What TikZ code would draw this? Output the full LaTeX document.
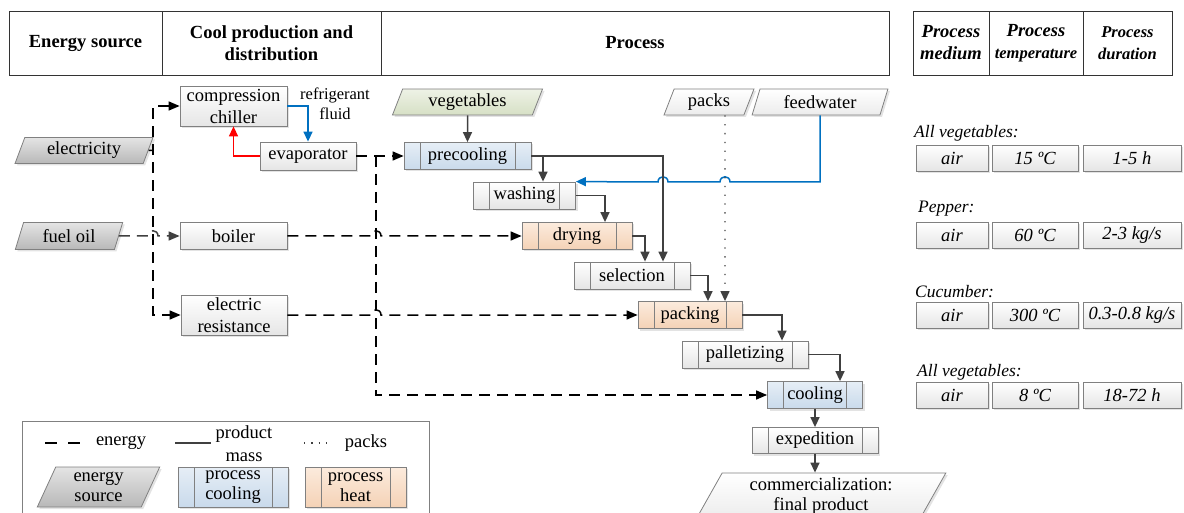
\documentclass[tikz,border=0pt]{standalone}
\usepackage{fontspec}
\setmainfont{Liberation Serif}
\usetikzlibrary{shapes.geometric,arrows.meta,shadows,calc}
\definecolor{boxline}{HTML}{808080}
\definecolor{prodc}{HTML}{404040}
\definecolor{bluel}{HTML}{0070C0}
\definecolor{coolA}{HTML}{E6EEF6}
\definecolor{coolB}{HTML}{C9DAEB}
\definecolor{heatA}{HTML}{FCEBDD}
\definecolor{heatB}{HTML}{F4D2B6}
\definecolor{vegA}{HTML}{EEF2E6}
\definecolor{vegB}{HTML}{D6E0C5}
\definecolor{enA}{HTML}{E4E4E4}
\definecolor{enB}{HTML}{B8B8B8}
\newcommand\myfs[2]{\fontsize{#1}{#2}\selectfont}
\begin{document}
\begin{tikzpicture}[x=1pt,y=-1pt,font=\myfs{18.5}{22},
  boxS/.style={rectangle,draw=boxline,line width=0.8pt,top color=white,bottom color=gray!20,
    inner sep=0pt,align=center,drop shadow={opacity=0.22,shadow xshift=2pt,shadow yshift=-2pt}},
  procS/.style={boxS,minimum height=27pt,path picture={
    \draw[boxline,line width=0.8pt]
      ([xshift=16pt]path picture bounding box.north west) -- ([xshift=16pt]path picture bounding box.south west)
      ([xshift=-16pt]path picture bounding box.north east) -- ([xshift=-16pt]path picture bounding box.south east);}},
  paraS/.style={trapezium,trapezium left angle=70,trapezium right angle=110,trapezium stretches=true,
    draw=boxline,line width=0.8pt,top color=white,bottom color=gray!15,inner sep=0pt,align=center,
    drop shadow={opacity=0.22,shadow xshift=2pt,shadow yshift=-2pt}},
  coolF/.style={top color=coolA,bottom color=coolB},
  heatF/.style={top color=heatA,bottom color=heatB},
  vegF/.style={top color=vegA,bottom color=vegB},
  enF/.style={top color=enA,bottom color=enB},
  hdrS/.style={rectangle,draw=black!80,line width=0.9pt,inner sep=0pt,align=center,minimum height=64pt},
  cellS/.style={boxS,minimum height=26pt,font=\myfs{18.5}{22}\itshape},
  labS/.style={anchor=west,inner sep=0pt,font=\myfs{17.5}{21}\itshape},
  energyL/.style={draw=black,line width=1.5pt,dash pattern=on 11pt off 7pt,-{Triangle[length=11pt,width=9pt]}},
  prodL/.style={draw=prodc,line width=1.5pt,-{Triangle[length=10pt,width=9pt]}},
  refrL/.style={draw=bluel,line width=1.5pt,-{Triangle[length=10pt,width=9pt]}},
  redL/.style={draw=red,line width=1.5pt,-{Triangle[length=10pt,width=9pt]}},
  packsL/.style={draw=prodc,line width=1.3pt,dash pattern=on 1.3pt off 7.5pt,-{Triangle[length=10pt,width=9pt]}}
]
\useasboundingbox (0,0) rectangle (1184,513);
\clip (0,0) rectangle (1184,513);

% header
\node[hdrS,minimum width=153pt] (hE) at (85.5,43) {\bfseries Energy source};
\node[hdrS,minimum width=219pt] (hC) at (271.5,43) {\bfseries Cool production and\\\bfseries distribution};
\node[hdrS,minimum width=508pt] (hP) at (635,43) {\bfseries Process};
\node[hdrS,minimum width=76pt] (hM) at (951,43) {\bfseries\itshape Process\\\bfseries\itshape medium};
\node[hdrS,minimum width=94pt] (hT) at (1036,43) {\bfseries\itshape Process\\\myfs{16.5}{22}\bfseries\itshape temperature};
\node[hdrS,minimum width=89pt,font=\myfs{16.5}{22}] (hD) at (1127.5,43) {\bfseries\itshape Process\\\bfseries\itshape duration};

% energy sources and cool production
\node[paraS,enF,minimum width=138pt,minimum height=26pt] (elec) at (84,150.5) {electricity};
\node[paraS,enF,minimum width=108pt,minimum height=27pt] (fuel) at (69,236) {fuel oil};
\node[boxS,minimum width=107pt,minimum height=40pt] (chiller) at (233.5,106) {compression\\chiller};
\node[boxS,minimum width=96pt,minimum height=28pt] (evap) at (308,156) {evaporator};
\node[boxS,minimum width=107pt,minimum height=27pt] (boiler) at (233.5,236) {boiler};
\node[boxS,minimum width=106pt,minimum height=40pt] (eres) at (234,315) {electric\\resistance};
\node[align=center,inner sep=0pt,font=\myfs{16.5}{20}] (rflab) at (335,104) {refrigerant\\fluid};

% process
\node[paraS,vegF,minimum width=151pt,minimum height=26pt] (veg) at (467.5,102) {vegetables};
\node[paraS,minimum width=90pt,minimum height=26pt] (packs) at (709,102) {packs};
\node[paraS,minimum width=136pt,minimum height=26pt] (feed) at (820,102) {feedwater};
\node[procS,coolF,minimum width=127pt] (precool) at (467.5,156) {precooling};
\node[procS,minimum width=102pt] (wash) at (524.5,195.5) {washing};
\node[procS,heatF,minimum width=110pt] (dry) at (577,236) {drying};
\node[procS,minimum width=116pt] (sel) at (632,275.5) {selection};
\node[procS,heatF,minimum width=104pt] (pack) at (690,315) {packing};
\node[procS,minimum width=126pt] (pall) at (745,354.5) {palletizing};
\node[procS,coolF,minimum width=95pt] (cool) at (815,395) {cooling};
\node[procS,minimum width=126pt,minimum height=26pt] (exped) at (815,440.5) {expedition};
\node[paraS,trapezium left angle=63,trapezium right angle=117,minimum width=250pt,minimum height=46pt,font=\myfs{18.5}{20}] (comm) at (821,496) {commercialization:\\final product};

% energy connectors
\coordinate (busE) at (153,150.5);
\draw[energyL,-] (elec.east) -- (busE);
\draw[energyL,{Triangle[length=11pt,width=9pt]}-{Triangle[length=11pt,width=9pt]}] (chiller.west) -- (153,106) -- (153,315) -- (eres.west);
\draw[energyL,draw=prodc] (fuel.east) -- (148,236) .. controls (148,229) and (158,229) .. (158,236) -- (boiler.west);
\draw[energyL] (evap.east) -- (376,156) -- (precool.west);
\draw[energyL] (376,156) -- (376,395) -- (cool.west);
\draw[energyL] (boiler.east) -- (371,236) .. controls (371,229) and (381,229) .. (381,236) -- (dry.west);
\draw[energyL] (eres.east) -- (371,315) .. controls (371,308) and (381,308) .. (381,315) -- (pack.west);

% refrigerant
\draw[refrL] (chiller.east) -| (evap.north);
\draw[redL] (evap.west) -| (chiller.south);

% feedwater
\draw[refrL] (feed.south) -- (820,182) -- (730,182) .. controls (730,175) and (720,175) .. (720,182)
  -- (668,182) .. controls (668,175) and (658,175) .. (658,182) -- (wash.north east);

% product flow
\draw[prodL] (veg.south) -- (precool.north);
\draw[prodL] (precool.east) -| ([xshift=18.5pt]wash.north);
\draw[prodL] (precool.east) -| ([xshift=31pt]sel.north);
\draw[prodL] (wash.east) -| ([xshift=28pt]dry.north);
\draw[prodL] (dry.east) -| ([xshift=13pt]sel.north);
\draw[prodL] (sel.east) -| ([xshift=18pt]pack.north);
\draw[packsL] ([xshift=16pt]packs.south) -- ([xshift=35pt]pack.north);
\draw[prodL] (pack.east) -| ([xshift=37pt]pall.north);
\draw[prodL] (pall.east) -| ([xshift=25pt]cool.north);
\draw[prodL] (cool.south) -- (exped.north);
\draw[prodL] (exped.south) -- (exped.south |- comm.north);

% right table
\node[labS] (l1) at (914,133) {All vegetables:};
\node[cellS,minimum width=72pt] (a1) at (952,158) {air};
\node[cellS,minimum width=86pt] (t1) at (1035,158) {15 ºC};
\node[cellS,minimum width=98pt] (d1) at (1132,158) {1-5 h};
\node[labS] (l2) at (918,209) {Pepper:};
\node[cellS,minimum width=72pt] (a2) at (952,235.5) {air};
\node[cellS,minimum width=86pt] (t2) at (1035,235.5) {60 ºC};
\node[cellS,minimum width=98pt] (d2) at (1132,235.5) {2-3 kg/s};
\node[labS] (l3) at (915,292) {Cucumber:};
\node[cellS,minimum width=72pt] (a3) at (952,315) {air};
\node[cellS,minimum width=86pt] (t3) at (1035,315) {300 ºC};
\node[cellS,minimum width=98pt] (d3) at (1132,315) {0.3-0.8 kg/s};
\node[labS] (l4) at (917,372) {All vegetables:};
\node[cellS,minimum width=72pt] (a4) at (952,395) {air};
\node[cellS,minimum width=86pt] (t4) at (1035,395) {8 ºC};
\node[cellS,minimum width=98pt] (d4) at (1132,395) {18-72 h};

% legend
\node[draw=boxline,line width=0.8pt,minimum width=407pt,minimum height=100pt,inner sep=0pt] (legend) at (225.5,471) {};
\coordinate (lgA1) at (45,443); \coordinate (lgA2) at (81,443);
\draw[energyL,-,dash pattern=on 12pt off 11pt] (lgA1) -- (lgA2);
\node[inner sep=0pt] (lgE) at (121,443) {energy};
\coordinate (lgB1) at (175,443); \coordinate (lgB2) at (211,443);
\draw[prodL,-] (lgB1) -- (lgB2);
\node[inner sep=0pt,align=center,font=\myfs{18.5}{23}] (lgP) at (244,443.5) {product\\mass};
\coordinate (lgC1) at (304,443); \coordinate (lgC2) at (331,443);
\draw[packsL,-,dash pattern=on 1.3pt off 6pt] (lgC1) -- (lgC2);
\node[inner sep=0pt] (lgK) at (366,443) {packs};
\node[paraS,enF,minimum width=123pt,minimum height=40pt,font=\myfs{18.5}{20}] (lgS) at (98.5,487) {energy\\source};
\node[procS,coolF,minimum width=110pt,minimum height=40pt,font=\myfs{18.5}{20}] (lgCo) at (233,487) {process\\cooling};
\node[procS,heatF,minimum width=101pt,minimum height=40pt,font=\myfs{18.5}{20}] (lgH) at (355.5,487) {process\\heat};
\end{tikzpicture}
\end{document}
